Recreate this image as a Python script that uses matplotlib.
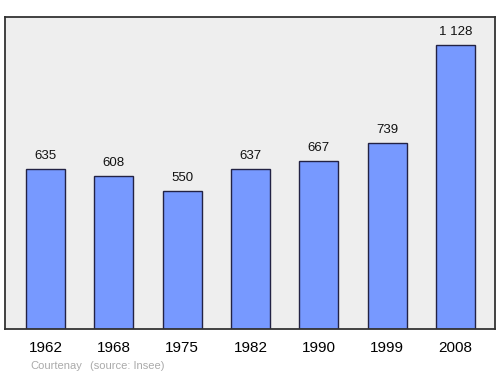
import matplotlib
matplotlib.use("Agg")
import matplotlib.pyplot as plt

years = ["1962", "1968", "1975", "1982", "1990", "1999", "2008"]
population = [635, 608, 550, 637, 667, 739, 1128]
labels = ["635", "608", "550", "637", "667", "739", "1 128"]

plt.rcParams['font.family'] = ['Liberation Sans', 'DejaVu Sans']

fig = plt.figure(figsize=(5, 3.74), dpi=100)
ax = fig.add_axes([5 / 500, 1 - 329 / 374, 490 / 500, 312 / 374])
ax.set_facecolor('#eeeeee')

x = list(range(len(years)))
ax.bar(x, population, width=0.57, color='#7799ff', edgecolor='#222244', linewidth=1)

for xi, v, lab in zip(x, population, labels):
    ax.annotate(lab, (xi, v), xytext=(0, 5), textcoords='offset points',
                ha='center', va='bottom', fontsize=9.5, color='#111111')

ax.set_xlim(-0.593, 6.578)
ax.set_ylim(0, 1239)
ax.set_yticks([])
ax.set_xticks(x)
ax.set_xticklabels(years, fontsize=11)
ax.tick_params(axis='x', length=0, pad=9)
for s in ax.spines.values():
    s.set_color('#333333')
    s.set_linewidth(1.3)

fig.text(30 / 500, 1 - 366 / 374, "Courtenay", fontsize=8, color='#aaaaaa', va='center')
fig.text(90 / 500, 1 - 366 / 374, "(source: Insee)", fontsize=8, color='#aaaaaa', va='center')

fig.savefig("out.png", dpi=100)
